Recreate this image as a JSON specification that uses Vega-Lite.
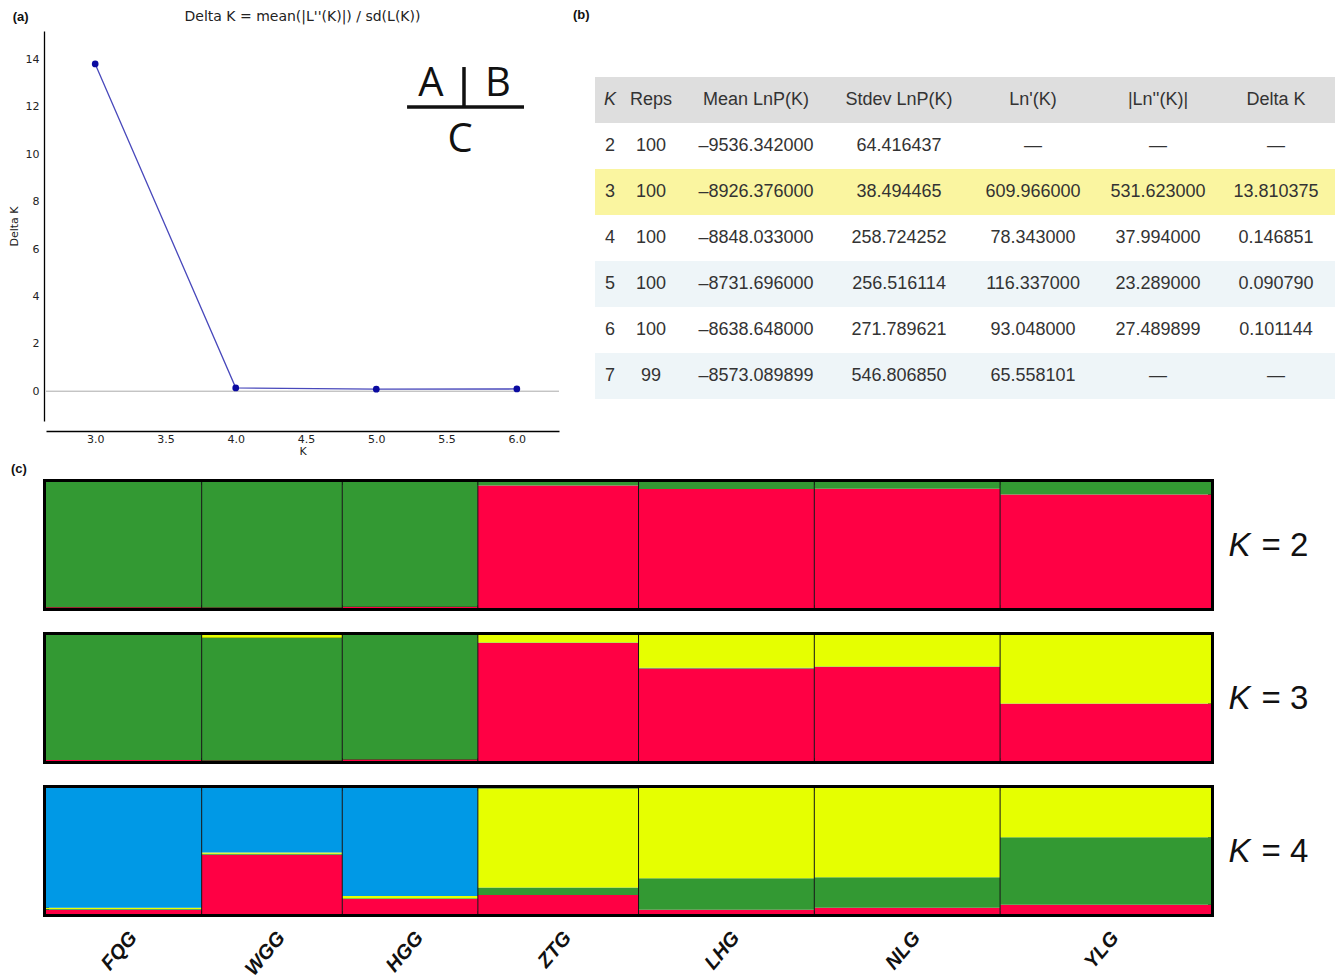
{
  "$schema": "https://vega.github.io/schema/vega-lite/v6.json",
  "autosize": {"type": "pad"},
  "padding": {"left": 8, "top": 9, "right": 0, "bottom": 0},
  "background": "white",
  "config": {"view": {"stroke": null}, "font": "Liberation Sans"},
  "datasets": {
    "dk": [
      {"K": 3, "dK": 13.810375},
      {"K": 4, "dK": 0.146851},
      {"K": 5, "dK": 0.09079},
      {"K": 6, "dK": 0.101144}
    ],
    "tbl": [
      {"r": "h", "shade": "header", "K": "K", "Reps": "Reps", "Mean": "Mean LnP(K)", "Stdev": "Stdev LnP(K)", "Ln1": "Ln'(K)", "Ln2": "|Ln''(K)|", "Delta": "Delta K"},
      {"r": "2", "shade": "plain", "K": "2", "Reps": "100", "Mean": "–9536.342000", "Stdev": "64.416437", "Ln1": "—", "Ln2": "—", "Delta": "—"},
      {"r": "3", "shade": "best", "K": "3", "Reps": "100", "Mean": "–8926.376000", "Stdev": "38.494465", "Ln1": "609.966000", "Ln2": "531.623000", "Delta": "13.810375"},
      {"r": "4", "shade": "plain", "K": "4", "Reps": "100", "Mean": "–8848.033000", "Stdev": "258.724252", "Ln1": "78.343000", "Ln2": "37.994000", "Delta": "0.146851"},
      {"r": "5", "shade": "alt", "K": "5", "Reps": "100", "Mean": "–8731.696000", "Stdev": "256.516114", "Ln1": "116.337000", "Ln2": "23.289000", "Delta": "0.090790"},
      {"r": "6", "shade": "plain", "K": "6", "Reps": "100", "Mean": "–8638.648000", "Stdev": "271.789621", "Ln1": "93.048000", "Ln2": "27.489899", "Delta": "0.101144"},
      {"r": "7", "shade": "alt", "K": "7", "Reps": "99", "Mean": "–8573.089899", "Stdev": "546.806850", "Ln1": "65.558101", "Ln2": "—", "Delta": "—"}
    ],
    "pops": [
      {"pop": "FQG", "start": 0, "end": 31},
      {"pop": "WGG", "start": 31, "end": 59},
      {"pop": "HGG", "start": 59, "end": 86},
      {"pop": "ZTG", "start": 86, "end": 118},
      {"pop": "LHG", "start": 118, "end": 153},
      {"pop": "NLG", "start": 153, "end": 190},
      {"pop": "YLG", "start": 190, "end": 232}
    ],
    "q": [
      {"K": 2, "pop": "FQG", "cl": "c1", "q": 0.006}, {"K": 2, "pop": "FQG", "cl": "c2", "q": 0.994},
      {"K": 2, "pop": "WGG", "cl": "c1", "q": 0.004}, {"K": 2, "pop": "WGG", "cl": "c2", "q": 0.996},
      {"K": 2, "pop": "HGG", "cl": "c1", "q": 0.01}, {"K": 2, "pop": "HGG", "cl": "c2", "q": 0.99},
      {"K": 2, "pop": "ZTG", "cl": "c1", "q": 0.972}, {"K": 2, "pop": "ZTG", "cl": "c2", "q": 0.028},
      {"K": 2, "pop": "LHG", "cl": "c1", "q": 0.945}, {"K": 2, "pop": "LHG", "cl": "c2", "q": 0.055},
      {"K": 2, "pop": "NLG", "cl": "c1", "q": 0.946}, {"K": 2, "pop": "NLG", "cl": "c2", "q": 0.054},
      {"K": 2, "pop": "YLG", "cl": "c1", "q": 0.9}, {"K": 2, "pop": "YLG", "cl": "c2", "q": 0.1},
      {"K": 3, "pop": "FQG", "cl": "c1", "q": 0.008}, {"K": 3, "pop": "FQG", "cl": "c2", "q": 0.992},
      {"K": 3, "pop": "WGG", "cl": "c1", "q": 0.004}, {"K": 3, "pop": "WGG", "cl": "c2", "q": 0.974}, {"K": 3, "pop": "WGG", "cl": "c3", "q": 0.022},
      {"K": 3, "pop": "HGG", "cl": "c1", "q": 0.012}, {"K": 3, "pop": "HGG", "cl": "c2", "q": 0.988},
      {"K": 3, "pop": "ZTG", "cl": "c1", "q": 0.936}, {"K": 3, "pop": "ZTG", "cl": "c2", "q": 0.004}, {"K": 3, "pop": "ZTG", "cl": "c3", "q": 0.06},
      {"K": 3, "pop": "LHG", "cl": "c1", "q": 0.735}, {"K": 3, "pop": "LHG", "cl": "c2", "q": 0.005}, {"K": 3, "pop": "LHG", "cl": "c3", "q": 0.26},
      {"K": 3, "pop": "NLG", "cl": "c1", "q": 0.746}, {"K": 3, "pop": "NLG", "cl": "c2", "q": 0.004}, {"K": 3, "pop": "NLG", "cl": "c3", "q": 0.25},
      {"K": 3, "pop": "YLG", "cl": "c1", "q": 0.455}, {"K": 3, "pop": "YLG", "cl": "c2", "q": 0.002}, {"K": 3, "pop": "YLG", "cl": "c3", "q": 0.543},
      {"K": 4, "pop": "FQG", "cl": "c1", "q": 0.033}, {"K": 4, "pop": "FQG", "cl": "c2", "q": 0.006}, {"K": 4, "pop": "FQG", "cl": "c3", "q": 0.01}, {"K": 4, "pop": "FQG", "cl": "c4", "q": 0.951},
      {"K": 4, "pop": "WGG", "cl": "c1", "q": 0.47}, {"K": 4, "pop": "WGG", "cl": "c2", "q": 0.008}, {"K": 4, "pop": "WGG", "cl": "c3", "q": 0.011}, {"K": 4, "pop": "WGG", "cl": "c4", "q": 0.511},
      {"K": 4, "pop": "HGG", "cl": "c1", "q": 0.12}, {"K": 4, "pop": "HGG", "cl": "c2", "q": 0.005}, {"K": 4, "pop": "HGG", "cl": "c3", "q": 0.017}, {"K": 4, "pop": "HGG", "cl": "c4", "q": 0.858},
      {"K": 4, "pop": "ZTG", "cl": "c1", "q": 0.15}, {"K": 4, "pop": "ZTG", "cl": "c2", "q": 0.06}, {"K": 4, "pop": "ZTG", "cl": "c3", "q": 0.788}, {"K": 4, "pop": "ZTG", "cl": "c4", "q": 0.002},
      {"K": 4, "pop": "LHG", "cl": "c1", "q": 0.033}, {"K": 4, "pop": "LHG", "cl": "c2", "q": 0.25}, {"K": 4, "pop": "LHG", "cl": "c3", "q": 0.717},
      {"K": 4, "pop": "NLG", "cl": "c1", "q": 0.049}, {"K": 4, "pop": "NLG", "cl": "c2", "q": 0.242}, {"K": 4, "pop": "NLG", "cl": "c3", "q": 0.709},
      {"K": 4, "pop": "YLG", "cl": "c1", "q": 0.073}, {"K": 4, "pop": "YLG", "cl": "c2", "q": 0.536}, {"K": 4, "pop": "YLG", "cl": "c3", "q": 0.391}
    ]
  },
  "spacing": 3,
  "vconcat": [
    {
      "bounds": "flush",
      "spacing": 36,
      "hconcat": [
        {
          "width": 513,
          "height": 390,
          "data": {"name": "dk"},
          "layer": [
            {"mark": {"type": "rule", "color": "#c4c4c4", "strokeWidth": 1}, "encoding": {"y": {"datum": 0, "type": "quantitative"}}},
            {
              "mark": {"type": "line", "color": "#4848bb", "strokeWidth": 1.3},
              "encoding": {
                "x": {"field": "K", "type": "quantitative", "scale": {"domain": [2.65, 6.3], "nice": false, "zero": false},
                  "axis": {"values": [3, 3.5, 4, 4.5, 5, 5.5, 6], "format": ".1f", "offset": 10, "title": "K", "titleFont": "DejaVu Sans", "titleFontSize": 11, "titleFontWeight": "normal", "titlePadding": 1, "labelFont": "DejaVu Sans", "labelFontSize": 11, "labelColor": "#222", "titleColor": "#222", "domainColor": "#000", "domainWidth": 1.3, "ticks": false, "labelPadding": 2, "grid": false}},
                "y": {"field": "dK", "type": "quantitative", "scale": {"domain": [-1.25, 15.2], "nice": false, "zero": false},
                  "axis": {"values": [0, 2, 4, 6, 8, 10, 12, 14], "offset": 2, "title": "Delta K", "titleFont": "DejaVu Sans", "titleFontSize": 11, "titleFontWeight": "normal", "titlePadding": 6, "labelFont": "DejaVu Sans", "labelFontSize": 11, "labelColor": "#222", "titleColor": "#222", "domainColor": "#000", "domainWidth": 1.3, "ticks": false, "labelPadding": 5, "grid": false}}
              }
            },
            {"mark": {"type": "point", "filled": true, "color": "#0a0aa0", "size": 45, "opacity": 1}, "encoding": {"x": {"field": "K", "type": "quantitative"}, "y": {"field": "dK", "type": "quantitative"}}},
            {"data": {"values": [{"t": "A"}]}, "mark": {"type": "text", "font": "Open Sans", "fontSize": 40, "color": "#111", "baseline": "middle", "align": "center"}, "encoding": {"x": {"datum": 5.389, "type": "quantitative"}, "y": {"datum": 12.95, "type": "quantitative"}, "text": {"field": "t"}}},
            {"data": {"values": [{"t": "B"}]}, "mark": {"type": "text", "font": "Open Sans", "fontSize": 40, "color": "#111", "baseline": "middle", "align": "center"}, "encoding": {"x": {"datum": 5.866, "type": "quantitative"}, "y": {"datum": 12.95, "type": "quantitative"}, "text": {"field": "t"}}},
            {"data": {"values": [{"t": "C"}]}, "mark": {"type": "text", "font": "Open Sans", "fontSize": 40, "color": "#111", "baseline": "middle", "align": "center"}, "encoding": {"x": {"datum": 5.596, "type": "quantitative"}, "y": {"datum": 10.6, "type": "quantitative"}, "text": {"field": "t"}}},
            {"data": {"values": [{}]}, "mark": {"type": "rule", "color": "#111", "strokeWidth": 3.5}, "encoding": {"x": {"datum": 5.219, "type": "quantitative"}, "x2": {"datum": 6.051}, "y": {"datum": 11.99, "type": "quantitative"}}},
            {"data": {"values": [{}]}, "mark": {"type": "rule", "color": "#111", "strokeWidth": 3.5}, "encoding": {"x": {"datum": 5.624, "type": "quantitative"}, "y": {"datum": 13.68, "type": "quantitative"}, "y2": {"datum": 11.99}}},
            {"data": {"values": [{"t": "(a)"}]}, "mark": {"type": "text", "font": "Liberation Sans", "fontSize": 13, "fontWeight": "bold", "color": "#111", "baseline": "middle", "align": "center"}, "encoding": {"x": {"datum": 2.47, "type": "quantitative"}, "y": {"datum": 15.79, "type": "quantitative"}, "text": {"field": "t"}}},
            {"data": {"values": [{"t": "Delta K = mean(|L''(K)|) / sd(L(K))"}]}, "mark": {"type": "text", "font": "DejaVu Sans", "fontSize": 14, "color": "#222", "baseline": "middle", "align": "center"}, "encoding": {"x": {"datum": 4.475, "type": "quantitative"}, "y": {"datum": 15.79, "type": "quantitative"}, "text": {"field": "t"}}}
          ]
        },
        {
          "bounds": "flush",
          "spacing": 0,
          "hconcat": [
            {
              "width": 30, "height": 368,
              "title": {"text": "(b)", "anchor": "start", "frame": "group", "dx": -22, "offset": 9, "fontSize": 13, "fontWeight": "bold", "font": "Liberation Sans", "color": "#111"},
              "data": {"name": "tbl"},
              "layer": [
                {"mark": {"type": "rect"}, "encoding": {"x": {"value": 0}, "x2": {"value": "width"}, "y": {"field": "r", "type": "nominal", "scale": {"domain": ["pad", "h", "2", "3", "4", "5", "6", "7"], "paddingInner": 0, "paddingOuter": 0}, "axis": null}, "fill": {"field": "shade", "type": "nominal", "scale": {"domain": ["header", "plain", "best", "alt"], "range": ["#dedede", "#ffffff", "#faf5a0", "#eef5f8"]}, "legend": null}}},
                {"transform": [{"filter": "datum.r != 'h'"}], "mark": {"type": "text", "font": "Liberation Sans", "fontSize": 18, "color": "#333"}, "encoding": {"y": {"field": "r", "type": "nominal"}, "text": {"field": "K"}}},
                {"transform": [{"filter": "datum.r == 'h'"}], "mark": {"type": "text", "font": "Liberation Sans", "fontSize": 18, "fontStyle": "italic", "color": "#333"}, "encoding": {"y": {"field": "r", "type": "nominal"}, "text": {"field": "K"}}}
              ]
            },
            {
              "width": 52, "height": 368,
              "data": {"name": "tbl"},
              "layer": [
                {"mark": {"type": "rect"}, "encoding": {"x": {"value": 0}, "x2": {"value": "width"}, "y": {"field": "r", "type": "nominal", "scale": {"domain": ["pad", "h", "2", "3", "4", "5", "6", "7"], "paddingInner": 0, "paddingOuter": 0}, "axis": null}, "fill": {"field": "shade", "type": "nominal", "scale": {"domain": ["header", "plain", "best", "alt"], "range": ["#dedede", "#ffffff", "#faf5a0", "#eef5f8"]}, "legend": null}}},
                {"mark": {"type": "text", "font": "Liberation Sans", "fontSize": 18, "color": "#333"}, "encoding": {"y": {"field": "r", "type": "nominal"}, "text": {"field": "Reps"}}}
              ]
            },
            {
              "width": 158, "height": 368,
              "data": {"name": "tbl"},
              "layer": [
                {"mark": {"type": "rect"}, "encoding": {"x": {"value": 0}, "x2": {"value": "width"}, "y": {"field": "r", "type": "nominal", "scale": {"domain": ["pad", "h", "2", "3", "4", "5", "6", "7"], "paddingInner": 0, "paddingOuter": 0}, "axis": null}, "fill": {"field": "shade", "type": "nominal", "scale": {"domain": ["header", "plain", "best", "alt"], "range": ["#dedede", "#ffffff", "#faf5a0", "#eef5f8"]}, "legend": null}}},
                {"mark": {"type": "text", "font": "Liberation Sans", "fontSize": 18, "color": "#333"}, "encoding": {"y": {"field": "r", "type": "nominal"}, "text": {"field": "Mean"}}}
              ]
            },
            {
              "width": 128, "height": 368,
              "data": {"name": "tbl"},
              "layer": [
                {"mark": {"type": "rect"}, "encoding": {"x": {"value": 0}, "x2": {"value": "width"}, "y": {"field": "r", "type": "nominal", "scale": {"domain": ["pad", "h", "2", "3", "4", "5", "6", "7"], "paddingInner": 0, "paddingOuter": 0}, "axis": null}, "fill": {"field": "shade", "type": "nominal", "scale": {"domain": ["header", "plain", "best", "alt"], "range": ["#dedede", "#ffffff", "#faf5a0", "#eef5f8"]}, "legend": null}}},
                {"mark": {"type": "text", "font": "Liberation Sans", "fontSize": 18, "color": "#333"}, "encoding": {"y": {"field": "r", "type": "nominal"}, "text": {"field": "Stdev"}}}
              ]
            },
            {
              "width": 140, "height": 368,
              "data": {"name": "tbl"},
              "layer": [
                {"mark": {"type": "rect"}, "encoding": {"x": {"value": 0}, "x2": {"value": "width"}, "y": {"field": "r", "type": "nominal", "scale": {"domain": ["pad", "h", "2", "3", "4", "5", "6", "7"], "paddingInner": 0, "paddingOuter": 0}, "axis": null}, "fill": {"field": "shade", "type": "nominal", "scale": {"domain": ["header", "plain", "best", "alt"], "range": ["#dedede", "#ffffff", "#faf5a0", "#eef5f8"]}, "legend": null}}},
                {"mark": {"type": "text", "font": "Liberation Sans", "fontSize": 18, "color": "#333"}, "encoding": {"y": {"field": "r", "type": "nominal"}, "text": {"field": "Ln1"}}}
              ]
            },
            {
              "width": 110, "height": 368,
              "data": {"name": "tbl"},
              "layer": [
                {"mark": {"type": "rect"}, "encoding": {"x": {"value": 0}, "x2": {"value": "width"}, "y": {"field": "r", "type": "nominal", "scale": {"domain": ["pad", "h", "2", "3", "4", "5", "6", "7"], "paddingInner": 0, "paddingOuter": 0}, "axis": null}, "fill": {"field": "shade", "type": "nominal", "scale": {"domain": ["header", "plain", "best", "alt"], "range": ["#dedede", "#ffffff", "#faf5a0", "#eef5f8"]}, "legend": null}}},
                {"mark": {"type": "text", "font": "Liberation Sans", "fontSize": 18, "color": "#333"}, "encoding": {"y": {"field": "r", "type": "nominal"}, "text": {"field": "Ln2"}}}
              ]
            },
            {
              "width": 126, "height": 368,
              "data": {"name": "tbl"},
              "layer": [
                {"mark": {"type": "rect"}, "encoding": {"x": {"value": 0}, "x2": {"value": "width"}, "y": {"field": "r", "type": "nominal", "scale": {"domain": ["pad", "h", "2", "3", "4", "5", "6", "7"], "paddingInner": 0, "paddingOuter": 0}, "axis": null}, "fill": {"field": "shade", "type": "nominal", "scale": {"domain": ["header", "plain", "best", "alt"], "range": ["#dedede", "#ffffff", "#faf5a0", "#eef5f8"]}, "legend": null}}},
                {"mark": {"type": "text", "font": "Liberation Sans", "fontSize": 18, "color": "#333"}, "encoding": {"y": {"field": "r", "type": "nominal"}, "text": {"field": "Delta"}}}
              ]
            }
          ]
        }
      ]
    },
    {
      "bounds": "flush",
      "spacing": 27,
      "vconcat": [
        {
          "width": 1165, "height": 126,
          "view": {"stroke": "#000", "strokeWidth": 6},
          "title": {"text": "(c)", "anchor": "start", "frame": "group", "dx": -35, "offset": 6, "fontSize": 13, "fontWeight": "bold", "font": "Liberation Sans", "color": "#111"},
          "layer": [
            {
              "data": {"name": "q"},
              "transform": [
                {"filter": "datum.K == 2"},
                {"stack": "q", "groupby": ["K", "pop"], "sort": [{"field": "cl", "order": "ascending"}], "as": ["q0", "q1"]},
                {"lookup": "pop", "from": {"data": {"name": "pops"}, "key": "pop", "fields": ["start", "end"]}}
              ],
              "mark": {"type": "rect"},
              "encoding": {
                "x": {"field": "start", "type": "quantitative", "scale": {"domain": [0, 232], "nice": false, "zero": false}, "axis": null},
                "x2": {"field": "end"},
                "y": {"field": "q0", "type": "quantitative", "scale": {"domain": [0, 1], "nice": false},
                  "axis": {"orient": "right", "values": [0.5], "labelExpr": "'= 2'", "ticks": false, "tickSize": 0, "domain": false, "grid": false, "labelPadding": 50, "labelFontSize": 33, "labelFont": "Liberation Sans", "labelColor": "#111", "labelBaseline": "middle", "labelAlign": "left", "title": "K", "titleAngle": 0, "titleX": 17, "titleY": 63, "titleAlign": "left", "titleBaseline": "middle", "titleFontStyle": "italic", "titleFontWeight": "normal", "titleFontSize": 33, "titleFont": "Liberation Sans", "titleColor": "#111"}},
                "y2": {"field": "q1"},
                "color": {"field": "cl", "type": "nominal", "scale": {"domain": ["c1", "c2", "c3", "c4"], "range": ["#ff0044", "#339933", "#e6ff00", "#0099e6"]}, "legend": null}
              }
            },
            {"data": {"name": "pops"}, "transform": [{"filter": "datum.start > 0"}], "mark": {"type": "rule", "color": "#111", "strokeWidth": 1}, "encoding": {"x": {"field": "start", "type": "quantitative"}}}
          ]
        },
        {
          "width": 1165, "height": 126,
          "view": {"stroke": "#000", "strokeWidth": 6},
          "layer": [
            {
              "data": {"name": "q"},
              "transform": [
                {"filter": "datum.K == 3"},
                {"stack": "q", "groupby": ["K", "pop"], "sort": [{"field": "cl", "order": "ascending"}], "as": ["q0", "q1"]},
                {"lookup": "pop", "from": {"data": {"name": "pops"}, "key": "pop", "fields": ["start", "end"]}}
              ],
              "mark": {"type": "rect"},
              "encoding": {
                "x": {"field": "start", "type": "quantitative", "scale": {"domain": [0, 232], "nice": false, "zero": false}, "axis": null},
                "x2": {"field": "end"},
                "y": {"field": "q0", "type": "quantitative", "scale": {"domain": [0, 1], "nice": false},
                  "axis": {"orient": "right", "values": [0.5], "labelExpr": "'= 3'", "ticks": false, "tickSize": 0, "domain": false, "grid": false, "labelPadding": 50, "labelFontSize": 33, "labelFont": "Liberation Sans", "labelColor": "#111", "labelBaseline": "middle", "labelAlign": "left", "title": "K", "titleAngle": 0, "titleX": 17, "titleY": 63, "titleAlign": "left", "titleBaseline": "middle", "titleFontStyle": "italic", "titleFontWeight": "normal", "titleFontSize": 33, "titleFont": "Liberation Sans", "titleColor": "#111"}},
                "y2": {"field": "q1"},
                "color": {"field": "cl", "type": "nominal", "scale": {"domain": ["c1", "c2", "c3", "c4"], "range": ["#ff0044", "#339933", "#e6ff00", "#0099e6"]}, "legend": null}
              }
            },
            {"data": {"name": "pops"}, "transform": [{"filter": "datum.start > 0"}], "mark": {"type": "rule", "color": "#111", "strokeWidth": 1}, "encoding": {"x": {"field": "start", "type": "quantitative"}}}
          ]
        },
        {
          "width": 1165, "height": 126,
          "view": {"stroke": "#000", "strokeWidth": 6},
          "layer": [
            {
              "data": {"name": "q"},
              "transform": [
                {"filter": "datum.K == 4"},
                {"stack": "q", "groupby": ["K", "pop"], "sort": [{"field": "cl", "order": "ascending"}], "as": ["q0", "q1"]},
                {"lookup": "pop", "from": {"data": {"name": "pops"}, "key": "pop", "fields": ["start", "end"]}}
              ],
              "mark": {"type": "rect"},
              "encoding": {
                "x": {"field": "start", "type": "quantitative", "scale": {"domain": [0, 232], "nice": false, "zero": false},
                  "axis": {"values": [15.5, 45, 72.5, 102, 135.5, 171.5, 211], "labelExpr": "datum.value < 30 ? 'FQG' : datum.value < 58 ? 'WGG' : datum.value < 85 ? 'HGG' : datum.value < 117 ? 'ZTG' : datum.value < 152 ? 'LHG' : datum.value < 189 ? 'NLG' : 'YLG'", "ticks": false, "tickSize": 0, "domain": false, "grid": false, "labelAngle": -50, "labelAlign": "right", "labelBaseline": "middle", "labelPadding": 20, "labelOffset": 9, "labelFontSize": 20, "labelFont": "Liberation Sans", "labelFontWeight": "bold", "labelFontStyle": "italic", "labelColor": "#111", "labelOverlap": false, "labelBound": false, "labelFlush": false, "title": null}},
                "x2": {"field": "end"},
                "y": {"field": "q0", "type": "quantitative", "scale": {"domain": [0, 1], "nice": false},
                  "axis": {"orient": "right", "values": [0.5], "labelExpr": "'= 4'", "ticks": false, "tickSize": 0, "domain": false, "grid": false, "labelPadding": 50, "labelFontSize": 33, "labelFont": "Liberation Sans", "labelColor": "#111", "labelBaseline": "middle", "labelAlign": "left", "title": "K", "titleAngle": 0, "titleX": 17, "titleY": 63, "titleAlign": "left", "titleBaseline": "middle", "titleFontStyle": "italic", "titleFontWeight": "normal", "titleFontSize": 33, "titleFont": "Liberation Sans", "titleColor": "#111"}},
                "y2": {"field": "q1"},
                "color": {"field": "cl", "type": "nominal", "scale": {"domain": ["c1", "c2", "c3", "c4"], "range": ["#ff0044", "#339933", "#e6ff00", "#0099e6"]}, "legend": null}
              }
            },
            {"data": {"name": "pops"}, "transform": [{"filter": "datum.start > 0"}], "mark": {"type": "rule", "color": "#111", "strokeWidth": 1}, "encoding": {"x": {"field": "start", "type": "quantitative"}}}
          ]
        }
      ]
    }
  ]
}
